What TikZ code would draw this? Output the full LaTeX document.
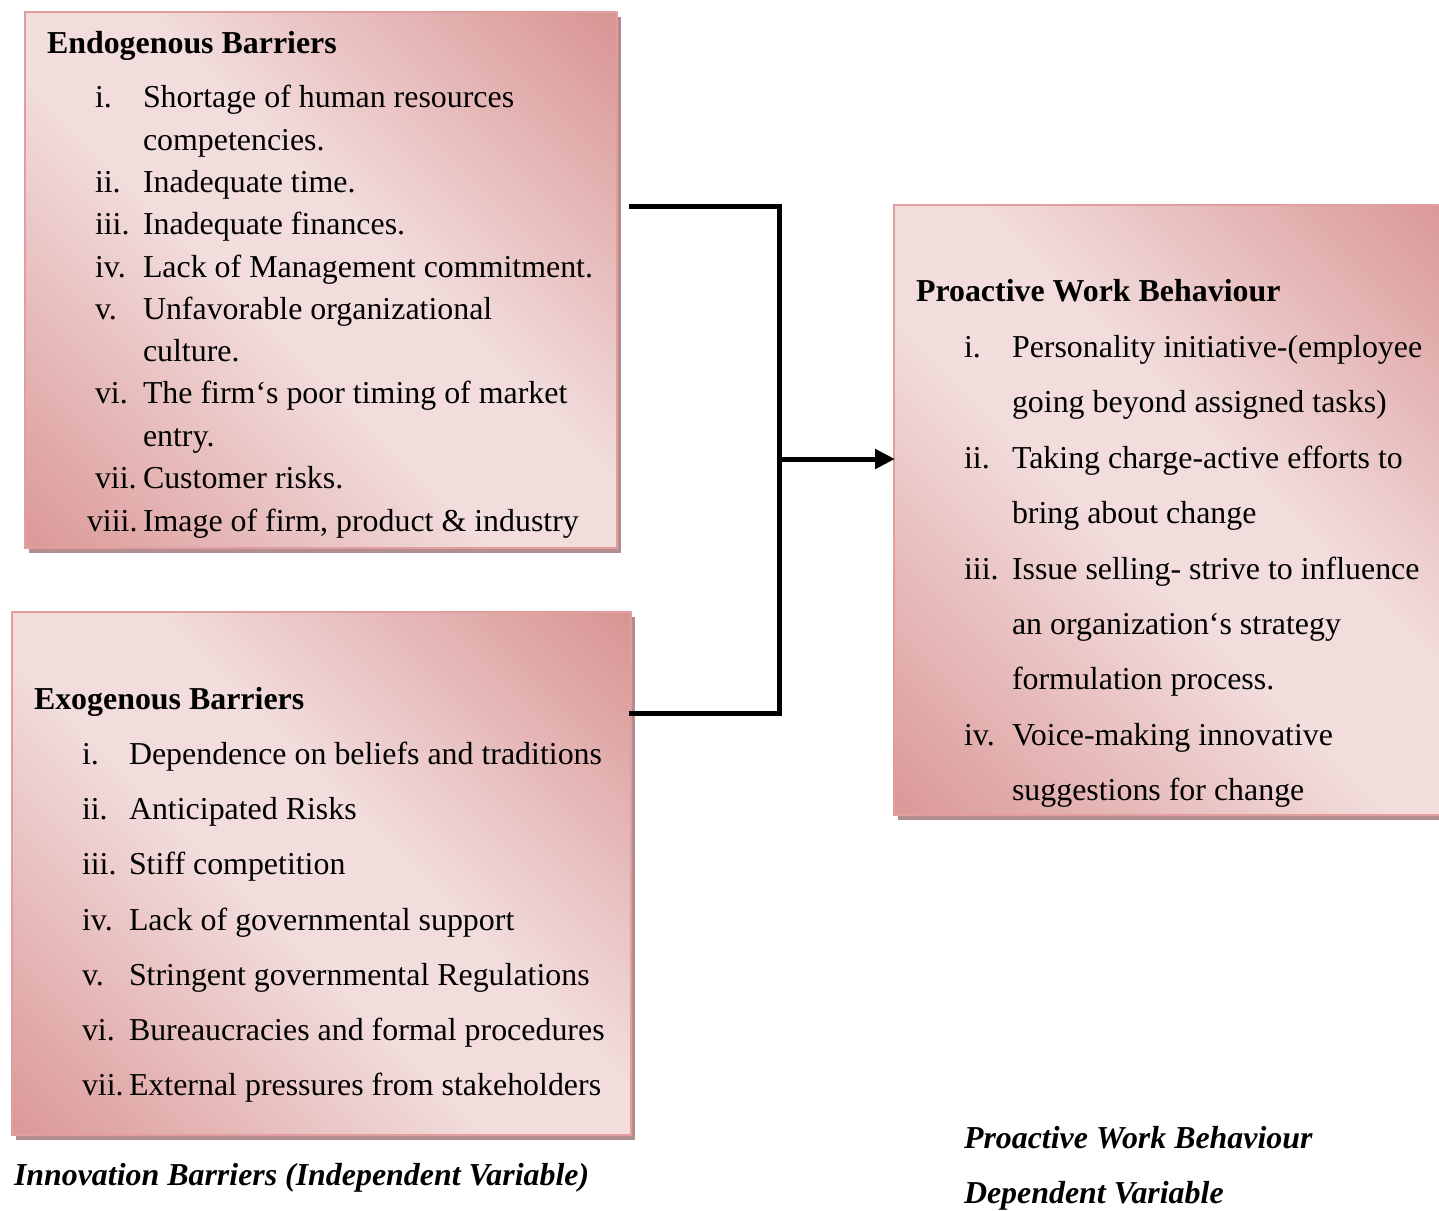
\documentclass[tikz,border=0pt]{standalone}
\usepackage{fontspec}
\setmainfont{Liberation Serif}
\usetikzlibrary{arrows.meta,shadows}
\definecolor{dk}{RGB}{217,149,148}
\definecolor{dkb}{RGB}{219,153,152}
\definecolor{lt}{RGB}{242,220,220}
\definecolor{bord}{RGB}{226,158,158}
\definecolor{shad}{RGB}{178,142,142}
\pgfdeclareverticalshading{pinkgrad}{100bp}{color(0bp)=(dkb); color(15bp)=(dkb); color(44bp)=(lt); color(56bp)=(lt); color(85bp)=(dk); color(100bp)=(dk)}
\tikzset{
  barbox/.style={draw=bord, line width=1.5pt, shade, shading=pinkgrad, shading angle=-45,
    anchor=north west, inner sep=0pt, outer sep=0pt,
    drop shadow={shadow xshift=4pt, shadow yshift=-5pt, fill=shad, opacity=1}},
  txt/.style={anchor=base west, inner sep=0pt, outer sep=0pt, font=\fontsize{31.9}{38}\selectfont},
  hd/.style={txt, font=\fontsize{31.9}{38}\selectfont\bfseries},
  captxt/.style={txt, font=\fontsize{31.9}{38}\selectfont\bfseries\itshape},
  conn/.style={line width=5pt, black},
}
\begin{document}
\begin{tikzpicture}[x=1pt,y=-1pt]
\useasboundingbox (0,0) rectangle (1439,1210);
\clip (0,0) rectangle (1439,1210);
% boxes
\node[barbox, minimum width=592pt, minimum height=536pt] (endo) at (25,12) {};
\node[barbox, minimum width=619pt, minimum height=523pt] (exo) at (12,612) {};
\node[barbox, minimum width=580pt, minimum height=610pt] (pro) at (894,205) {};
% connectors
\coordinate (t1) at (629,206);
\coordinate (t2) at (779,206);
\coordinate (b1) at (629,713);
\coordinate (b2) at (779,713);
\coordinate (j) at (779,459);
\draw[conn, line join=miter] (t1) -- (t2) -- (b2) -- (b1);
\draw[conn, -{Triangle[length=20pt,width=19pt]}, shorten >=-1pt] (j) -- (pro.west |- j);
% Endogenous
\node[hd] (eh) at (47,53) {Endogenous Barriers};
\node[txt] (en1) at (95,107) {i.};   \node[txt] (et1) at (143,107) {Shortage of human resources};
\node[txt] (et1b) at (143,150) {competencies.};
\node[txt] (en2) at (95,192) {ii.};  \node[txt] (et2) at (143,192) {Inadequate time.};
\node[txt] (en3) at (95,234) {iii.}; \node[txt] (et3) at (143,234) {Inadequate finances.};
\node[txt] (en4) at (95,277) {iv.};  \node[txt] (et4) at (143,277) {Lack of Management commitment.};
\node[txt] (en5) at (95,319) {v.};   \node[txt] (et5) at (143,319) {Unfavorable organizational};
\node[txt] (et5b) at (143,361) {culture.};
\node[txt] (en6) at (95,403) {vi.};  \node[txt] (et6) at (143,403) {The firm‘s poor timing of market};
\node[txt] (et6b) at (143,446) {entry.};
\node[txt] (en7) at (95,488) {vii.}; \node[txt] (et7) at (143,488) {Customer risks.};
\node[txt] (en8) at (87,531) {viii.}; \node[txt] (et8) at (143,531) {Image of firm, product \& industry};
% Exogenous
\node[hd] (xh) at (34,709) {Exogenous Barriers};
\node[txt] (xn1) at (82,764) {i.};   \node[txt] (xt1) at (129,764) {Dependence on beliefs and traditions};
\node[txt] (xn2) at (82,819) {ii.};  \node[txt] (xt2) at (129,819) {Anticipated Risks};
\node[txt] (xn3) at (82,874) {iii.}; \node[txt] (xt3) at (129,874) {Stiff competition};
\node[txt] (xn4) at (82,930) {iv.};  \node[txt] (xt4) at (129,930) {Lack of governmental support};
\node[txt] (xn5) at (82,985) {v.};   \node[txt] (xt5) at (129,985) {Stringent governmental Regulations};
\node[txt] (xn6) at (82,1040) {vi.}; \node[txt] (xt6) at (129,1040) {Bureaucracies and formal procedures};
\node[txt] (xn7) at (82,1095) {vii.}; \node[txt] (xt7) at (129,1095) {External pressures from stakeholders};
% Proactive
\node[hd] (ph) at (916,301) {Proactive Work Behaviour};
\node[txt] (pn1) at (964,357) {i.};   \node[txt] (pt1) at (1012,357) {Personality initiative-(employee};
\node[txt] (pt1b) at (1012,412) {going beyond assigned tasks)};
\node[txt] (pn2) at (964,468) {ii.};  \node[txt] (pt2) at (1012,468) {Taking charge-active efforts to};
\node[txt] (pt2b) at (1012,523) {bring about change};
\node[txt] (pn3) at (964,579) {iii.}; \node[txt] (pt3) at (1012,579) {Issue selling- strive to influence};
\node[txt] (pt3b) at (1012,634) {an organization‘s strategy};
\node[txt] (pt3c) at (1012,689) {formulation process.};
\node[txt] (pn4) at (964,745) {iv.};  \node[txt] (pt4) at (1012,745) {Voice-making innovative};
\node[txt] (pt4b) at (1012,800) {suggestions for change};
% captions
\node[captxt] (c1) at (14,1185) {Innovation Barriers (Independent Variable)};
\node[captxt] (c2) at (964,1148) {Proactive Work Behaviour};
\node[captxt] (c3) at (964,1203) {Dependent Variable};
\end{tikzpicture}
\end{document}
